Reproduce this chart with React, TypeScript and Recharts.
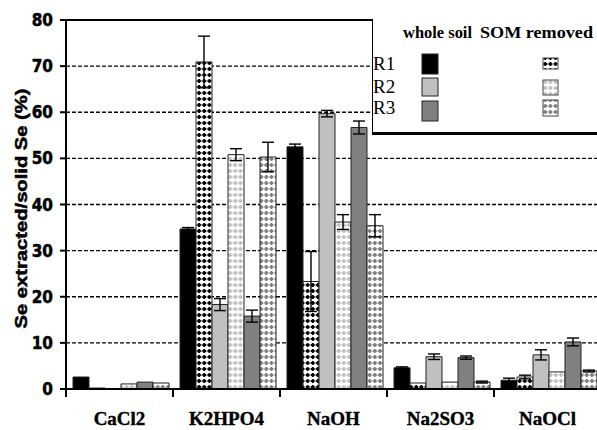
import { BarChart, Bar, XAxis, YAxis, CartesianGrid, ReferenceLine, ErrorBar, Legend } from 'recharts';

const categories = ['CaCl2', 'K2HPO4', 'NaOH', 'Na2SO3', 'NaOCl'];

const r1Whole = [2.6, 34.7, 52.5, 4.6, 1.9];
const r1WholeErr = [0, 0.3, 0.6, 0.2, 0.45];
const r1Som = [0.2, 70.9, 23.3, 1.3, 2.6];
const r1SomErr = [0, 5.6, 6.5, 0, 0.4];
const r2Whole = [0, 18.3, 59.7, 7.0, 7.4];
const r2WholeErr = [0, 1.3, 0.7, 0.6, 1.1];
const r2Som = [1.1, 50.8, 36.2, 1.5, 3.7];
const r2SomErr = [0, 1.3, 1.6, 0, 0];
const r3Whole = [1.5, 15.8, 56.7, 6.8, 10.2];
const r3WholeErr = [0, 1.3, 1.4, 0.35, 0.85];
const r3Som = [1.3, 50.3, 35.4, 1.5, 3.9];
const r3SomErr = [0, 3.2, 2.4, 0.2, 0.2];

const yTicks = [0, 10, 20, 30, 40, 50, 60, 70, 80];

const data = categories.map((name, i) => ({
  name,
  r1w: r1Whole[i], r1wE: r1WholeErr[i],
  r1s: r1Som[i], r1sE: r1SomErr[i],
  r2w: r2Whole[i], r2wE: r2WholeErr[i],
  r2s: r2Som[i], r2sE: r2SomErr[i],
  r3w: r3Whole[i], r3wE: r3WholeErr[i],
  r3s: r3Som[i], r3sE: r3SomErr[i],
}));

const W = 610;
const H = 430;
const Y_AXIS_W = 66;
const RIGHT = 9;
const PLOT_W = W - Y_AXIS_W - RIGHT;

const NARROW = "'Liberation Sans Narrow', 'DejaVu Sans Condensed', sans-serif";
const SERIF = "'Liberation Serif', 'Times New Roman', serif";
const SANS = "'Liberation Sans', Arial, sans-serif";

const BLACK = '#000000';
const LIGHT = '#c0c0c0';
const GRAY = '#808080';

function Patterns() {
  const pat = (id: string, color: string) => (
    <pattern id={id} width={5.17} height={6} patternUnits="userSpaceOnUse">
      <rect width={5.17} height={6} fill="#fff" />
      <rect x={0.6} y={2} width={4} height={2} fill={color} />
      <rect x={1.6} y={1} width={2} height={4} fill={color} />
    </pattern>
  );
  return (
    <svg width={0} height={0} style={{ position: 'absolute' }}>
      <defs>
        {pat('somR1', BLACK)}
        {pat('somR2', LIGHT)}
        {pat('somR3', GRAY)}
      </defs>
    </svg>
  );
}

function CatTick(props: any) {
  const { x, y, payload } = props;
  const half = PLOT_W / categories.length / 2;
  return (
    <g>
      <line x1={x - half} x2={x - half} y1={y - 8} y2={y} stroke="#000" strokeWidth={2} />
      <text
        x={x}
        y={y + 28}
        textAnchor="middle"
        fontFamily={SERIF}
        fontWeight={700}
        fontSize={19}
        fill="#000"
        stroke="#000"
        strokeWidth={0.4}
      >
        {payload.value}
      </text>
    </g>
  );
}

function LegendBox() {
  const rows = [
    { label: 'R1', fill: BLACK, som: 'url(#somR1)', wy: 35, wh: 20, sy: 39, sh: 11, ty: 51 },
    { label: 'R2', fill: LIGHT, som: 'url(#somR2)', wy: 59, wh: 18, sy: 61, sh: 15, ty: 74 },
    { label: 'R3', fill: GRAY, som: 'url(#somR3)', wy: 82, wh: 20, sy: 81, sh: 16, ty: 95 },
  ];
  return (
    <svg width={240} height={118} style={{ display: 'block' }}>
      <rect x={0} y={0} width={240} height={116} fill="#fff" />
      <line x1={0.5} x2={0.5} y1={0} y2={116} stroke="#000" strokeWidth={1} />
      <line x1={0} x2={240} y1={114.5} y2={114.5} stroke="#000" strokeWidth={3} />
      <text x={31} y={19} fontFamily={SERIF} fontWeight={700} fontSize={17} textLength={69} lengthAdjust="spacingAndGlyphs">
        whole soil
      </text>
      <text x={108} y={19} fontFamily={SERIF} fontWeight={700} fontSize={17} textLength={113} lengthAdjust="spacingAndGlyphs">
        SOM removed
      </text>
      {rows.map((r) => (
        <g key={r.label}>
          <text x={1} y={r.ty} fontFamily={SERIF} fontSize={19}>{r.label}</text>
          <rect x={50} y={r.wy} width={16} height={r.wh} fill={r.fill} stroke="#222" strokeWidth={1} />
          <rect x={171} y={r.sy} width={15} height={r.sh} fill={r.som} stroke="#444" strokeWidth={1} />
        </g>
      ))}
    </svg>
  );
}

function YLabel(props: any) {
  const vb = props.viewBox || { x: 0, y: 20, width: Y_AXIS_W, height: 369 };
  const cx = vb.x + 21;
  const cy = vb.y + vb.height / 2 + 4;
  return (
    <text
      x={cx}
      y={cy}
      transform={`rotate(-90 ${cx} ${cy})`}
      textAnchor="middle"
      dominantBaseline="central"
      fontFamily={SANS}
      fontWeight={700}
      fontSize={16}
      textLength={240}
      lengthAdjust="spacingAndGlyphs"
      fill="#000"
      stroke="#000"
      strokeWidth={0.5}
    >
      Se extracted/solid Se (%)
    </text>
  );
}

const barStroke = { stroke: '#222', strokeWidth: 1 };
const errProps = { stroke: '#000', strokeWidth: 1.4, width: 6 };

export default function App() {
  return (
    <div style={{ position: 'absolute', left: 0, top: 0, width: 597, height: 430, overflow: 'hidden', background: '#fff' }}>
      <Patterns />
      <BarChart
        width={W}
        height={H}
        data={data}
        margin={{ top: 20, right: RIGHT, left: 0, bottom: 0 }}
        barCategoryGap={7}
        barGap={0}
      >
        <CartesianGrid vertical={false} stroke="#000" strokeDasharray="4 2" strokeWidth={1.3} />
        <XAxis
          dataKey="name"
          height={41}
          axisLine={{ stroke: '#000', strokeWidth: 2 }}
          tickLine={false}
          tickSize={8}
          tickMargin={0}
          tick={<CatTick />}
          interval={0}
        />
        <YAxis
          width={Y_AXIS_W}
          domain={[0, 80]}
          ticks={yTicks}
          interval={0}
          axisLine={{ stroke: '#000', strokeWidth: 2 }}
          tickLine={{ stroke: '#000', strokeWidth: 2 }}
          tickSize={6}
          tickMargin={7}
          tick={{ fill: '#000', fontSize: 17, fontWeight: 700, fontFamily: NARROW, stroke: '#000', strokeWidth: 0.5 }}
          label={{ content: <YLabel /> }}
        />
        <ReferenceLine y={80} stroke="#000" strokeWidth={2} />
        <Legend
          layout="vertical"
          align="center"
          verticalAlign="middle"
          wrapperStyle={{ position: 'absolute', left: 372, top: 19, width: 240 }}
          content={<LegendBox />}
        />
        <Bar dataKey="r1w" fill={BLACK} {...barStroke} isAnimationActive={false}>
          <ErrorBar dataKey="r1wE" {...errProps} />
        </Bar>
        <Bar dataKey="r1s" fill="url(#somR1)" {...barStroke} isAnimationActive={false}>
          <ErrorBar dataKey="r1sE" {...errProps} />
        </Bar>
        <Bar dataKey="r2w" fill={LIGHT} {...barStroke} isAnimationActive={false}>
          <ErrorBar dataKey="r2wE" {...errProps} />
        </Bar>
        <Bar dataKey="r2s" fill="url(#somR2)" {...barStroke} isAnimationActive={false}>
          <ErrorBar dataKey="r2sE" {...errProps} />
        </Bar>
        <Bar dataKey="r3w" fill={GRAY} {...barStroke} isAnimationActive={false}>
          <ErrorBar dataKey="r3wE" {...errProps} />
        </Bar>
        <Bar dataKey="r3s" fill="url(#somR3)" {...barStroke} isAnimationActive={false}>
          <ErrorBar dataKey="r3sE" {...errProps} />
        </Bar>
      </BarChart>
    </div>
  );
}
